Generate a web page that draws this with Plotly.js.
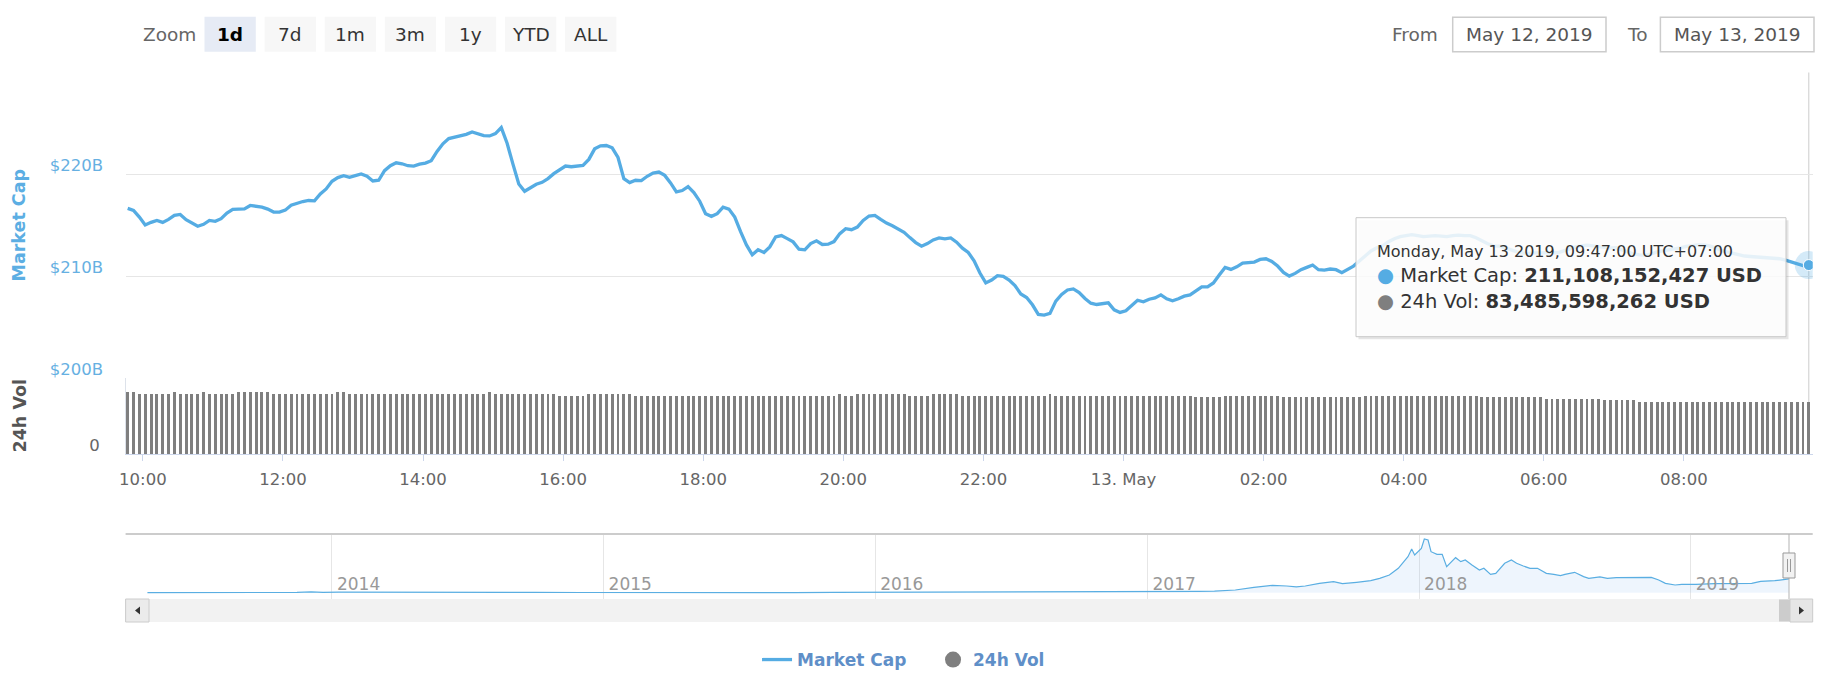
<!DOCTYPE html>
<html>
<head>
<meta charset="utf-8">
<script src="https://cdn.plot.ly/plotly-3.0.1.min.js"></script>
<style>
html,body{margin:0;padding:0;background:#fff;}
#chart{width:1832px;height:679px;}
</style>
</head>
<body>
<div id="chart"></div>
<script>
// ---------------- DATA ----------------
// Total market cap (billions USD), 5-minute points from 2019-05-12 09:47 to 2019-05-13 09:47
const marketCapB = [
  216.68, 216.48, 215.83, 215.05, 215.31, 215.50, 215.31, 215.60, 215.99, 216.09,
  215.57, 215.28, 214.92, 215.11, 215.50, 215.41, 215.67, 216.22, 216.58, 216.61,
  216.64, 216.97, 216.91, 216.81, 216.61, 216.32, 216.32, 216.51, 217.00, 217.20,
  217.36, 217.46, 217.43, 218.11, 218.60, 219.35, 219.71, 219.90, 219.74, 219.90,
  220.07, 219.84, 219.38, 219.45, 220.39, 220.88, 221.17, 221.07, 220.88, 220.85,
  221.04, 221.14, 221.37, 222.28, 223.03, 223.55, 223.68, 223.84, 223.97, 224.20,
  224.01, 223.84, 223.81, 224.04, 224.63, 223.09, 221.04, 219.09, 218.37, 218.70,
  219.06, 219.25, 219.61, 220.10, 220.46, 220.85, 220.78, 220.81, 220.91, 221.50,
  222.54, 222.83, 222.87, 222.64, 221.69, 219.61, 219.22, 219.45, 219.41, 219.84,
  220.16, 220.26, 219.93, 219.19, 218.31, 218.44, 218.83, 218.24, 217.39, 216.16,
  215.90, 216.16, 216.81, 216.61, 215.83, 214.40, 213.09, 212.12, 212.61, 212.35,
  212.90, 213.88, 214.01, 213.71, 213.39, 212.67, 212.61, 213.22, 213.49, 213.13,
  213.16, 213.42, 214.20, 214.69, 214.59, 214.85, 215.50, 215.93, 215.99, 215.60,
  215.24, 214.98, 214.66, 214.33, 213.81, 213.32, 212.96, 213.22, 213.58, 213.78,
  213.68, 213.78, 213.36, 212.77, 212.35, 211.53, 210.33, 209.35, 209.64, 210.07,
  210.00, 209.64, 209.09, 208.27, 207.92, 207.20, 206.25, 206.19, 206.35, 207.56,
  208.21, 208.66, 208.76, 208.40, 207.82, 207.36, 207.23, 207.33, 207.39, 206.71,
  206.45, 206.61, 207.13, 207.65, 207.49, 207.75, 207.88, 208.18, 207.79, 207.59,
  207.79, 208.05, 208.18, 208.60, 208.96, 208.96, 209.35, 210.13, 210.88, 210.68,
  210.94, 211.30, 211.37, 211.40, 211.66, 211.73, 211.47, 211.01, 210.39, 210.03,
  210.29, 210.65, 210.88, 211.11, 210.65, 210.62, 210.72, 210.65, 210.36, 210.68,
  211.01, 211.50, 212.00, 212.50, 212.80, 213.00, 213.40, 213.70, 213.90, 214.00,
  214.10, 214.00, 213.90, 213.95, 214.00, 213.95, 213.90, 214.00, 214.05, 214.00,
  214.00, 213.80, 213.50, 213.20, 213.00, 212.97, 212.80, 212.60, 212.40, 212.30,
  212.25, 212.30, 212.30, 212.35, 212.35, 212.32, 212.50, 212.70, 212.90, 213.00,
  213.07, 213.00, 212.90, 212.85, 212.80, 212.81, 212.60, 212.40, 212.20, 212.10,
  212.06, 212.20, 212.40, 212.50, 212.60, 212.65, 212.80, 212.95, 213.05, 213.10,
  213.10, 213.00, 212.80, 212.55, 212.40, 212.25, 212.10, 212.00, 211.95, 211.92,
  211.90, 211.85, 211.80, 211.73, 211.60, 211.40, 211.20, 211.05, 211.108152427
];

// 24h volume (billions USD), same timestamps
const volumeB = [
  99.5, 99.5, 95.8, 95.8, 95.8, 95.8, 95.8, 95.8, 99.5, 95.8,
  95.8, 95.8, 95.8, 98.5, 95.8, 95.8, 95.8, 95.8, 95.8, 99.5,
  99.5, 99.5, 99.5, 99.5, 99.5, 95.8, 95.8, 95.8, 95.8, 95.8,
  95.8, 95.8, 95.8, 95.8, 95.8, 95.8, 99.5, 99.5, 95.8, 95.8,
  95.8, 95.8, 95.8, 95.8, 95.8, 95.8, 95.8, 95.8, 95.8, 95.8,
  95.8, 95.8, 95.8, 95.8, 95.8, 95.8, 95.8, 95.8, 95.8, 95.8,
  95.8, 95.8, 98.5, 95.8, 95.8, 95.8, 95.8, 95.8, 95.8, 95.8,
  95.8, 95.8, 95.8, 95.8, 93.1, 93.1, 93.1, 93.1, 93.1, 95.8,
  95.8, 95.8, 95.8, 95.8, 95.8, 95.8, 95.8, 93.1, 93.1, 93.1,
  93.1, 93.1, 93.1, 93.1, 93.1, 93.1, 93.1, 93.1, 93.1, 93.1,
  93.1, 93.1, 93.1, 93.1, 93.1, 93.1, 93.1, 93.1, 93.1, 93.1,
  93.1, 93.1, 93.1, 93.1, 93.1, 93.1, 93.1, 93.1, 93.1, 93.1,
  93.1, 93.1, 95.8, 93.1, 93.1, 95.8, 95.8, 95.8, 95.8, 95.8,
  95.8, 95.8, 95.8, 95.8, 93.1, 93.1, 93.1, 93.1, 95.8, 95.8,
  95.8, 95.8, 95.8, 93.1, 93.1, 93.1, 93.1, 93.1, 93.1, 93.1,
  93.1, 93.1, 93.1, 93.1, 93.1, 93.1, 93.1, 93.1, 95.8, 93.1,
  93.1, 93.1, 93.1, 93.1, 93.1, 93.1, 93.1, 93.1, 93.1, 93.1,
  93.1, 93.1, 93.1, 93.1, 93.1, 93.1, 93.1, 93.1, 93.1, 93.1,
  93.1, 93.1, 93.1, 90.5, 90.5, 90.5, 90.5, 90.5, 93.1, 93.1,
  93.1, 93.1, 93.1, 93.1, 93.1, 93.1, 93.1, 93.1, 90.5, 90.5,
  90.5, 90.5, 90.5, 90.5, 90.5, 90.5, 90.5, 90.5, 90.5, 90.5,
  90.5, 90.5, 93.1, 93.1, 93.1, 93.1, 93.1, 93.1, 93.1, 93.1,
  93.1, 93.1, 93.1, 93.1, 93.1, 93.1, 93.1, 93.1, 93.1, 93.1,
  93.1, 93.1, 91.0, 91.0, 91.0, 91.0, 91.0, 91.0, 91.0, 91.0,
  91.0, 91.0, 91.0, 88.3, 88.3, 88.3, 88.3, 88.3, 88.3, 88.3,
  88.3, 88.3, 88.3, 86.2, 86.2, 86.2, 86.2, 86.2, 86.2, 83.49,
  83.49, 83.49, 83.49, 83.49, 83.49, 83.49, 83.49, 83.49, 83.49, 83.49,
  83.49, 83.49, 83.49, 83.49, 83.49, 83.49, 83.49, 83.49, 83.49, 83.49,
  83.49, 83.49, 83.49, 83.49, 83.49, 83.49, 83.49, 83.49, 83.485598262
];

const xTickVals = ['2019-05-12 10:00','2019-05-12 12:00','2019-05-12 14:00','2019-05-12 16:00',
  '2019-05-12 18:00','2019-05-12 20:00','2019-05-12 22:00','2019-05-13 00:00',
  '2019-05-13 02:00','2019-05-13 04:00','2019-05-13 06:00','2019-05-13 08:00'];
const xTickText = ['10:00','12:00','14:00','16:00','18:00','20:00','22:00','13. May',
  '02:00','04:00','06:00','08:00'];
const capTickVals = [200, 210, 220, 230];
const capTickText = ['$200B', '$210B', '$220B', ''];
const volTickVals = [0];
const volTickText = ['0'];

// Navigator: whole-history total market cap (billions USD)
const navDates = [
  '2013-04-28','2013-07-05','2013-10-01','2013-11-15','2013-12-04','2013-12-20','2014-01-10',
  '2014-02-15','2014-04-10','2014-06-01','2014-08-01','2014-10-01','2014-12-01','2015-01-15',
  '2015-03-15','2015-06-15','2015-09-15','2015-11-05','2015-12-15','2016-02-15','2016-04-15',
  '2016-06-17','2016-08-15','2016-10-15','2016-12-20','2017-01-05','2017-02-15','2017-03-10',
  '2017-04-01','2017-04-29','2017-05-24','2017-06-18','2017-07-07','2017-07-20','2017-08-01',
  '2017-08-20','2017-09-08','2017-09-20','2017-10-09','2017-10-28','2017-11-09','2017-11-22',
  '2017-12-04','2017-12-17','2017-12-22','2017-12-26','2018-01-04','2018-01-08','2018-01-13',
  '2018-01-17','2018-01-25','2018-02-01','2018-02-07','2018-02-13','2018-02-19','2018-02-26',
  '2018-03-04','2018-03-13','2018-03-23','2018-03-29','2018-04-07','2018-04-14','2018-04-26',
  '2018-05-05','2018-05-12','2018-05-21','2018-05-30','2018-06-09','2018-06-21','2018-07-01',
  '2018-07-10','2018-07-16','2018-07-29','2018-08-10','2018-08-17','2018-09-01','2018-09-11',
  '2018-09-23','2018-10-12','2018-11-09','2018-11-19','2018-11-28','2018-12-11','2018-12-20',
  '2019-01-08','2019-02-02','2019-03-24','2019-04-05','2019-04-24','2019-05-10','2019-05-13'
];
const navValuesB = [
  1.6, 1.1, 2.0, 6.0, 15.0, 8.0, 11.0,
  9.0, 5.0, 8.5, 7.5, 5.5, 5.0, 3.5,
  4.0, 3.9, 3.6, 6.0, 6.5, 6.5, 8.0,
  12.0, 10.0, 11.0, 16.0, 18.0, 19.0, 23.0,
  25.0, 43.0, 84.0, 114.0, 104.0, 89.0, 104.0,
  144.0, 170.0, 139.0, 160.0, 185.0, 220.0, 271.0,
  373.0, 550.0, 667.0, 575.0, 677.0, 819.0, 804.0,
  626.0, 586.0, 586.0, 398.0, 464.0, 535.0, 474.0,
  499.0, 423.0, 347.0, 373.0, 281.0, 296.0, 449.0,
  499.0, 449.0, 408.0, 373.0, 373.0, 296.0, 281.0,
  261.0, 281.0, 312.0, 246.0, 220.0, 241.0, 220.0,
  230.0, 230.0, 235.0, 195.0, 144.0, 119.0, 129.0,
  129.0, 139.0, 144.0, 175.0, 185.0, 210.0, 211.1
];
const navTickVals = ['2014-01-01','2015-01-01','2016-01-01','2017-01-01','2018-01-01','2019-01-01'];
const navTickText = ['2014','2015','2016','2017','2018','2019'];

const zoomButtons = ['1d','7d','1m','3m','1y','YTD','ALL'];
const selectedButton = '1d';
const fromDateText = 'May 12, 2019';
const toDateText = 'May 13, 2019';
const tooltipHeader = 'Monday, May 13 2019, 09:47:00 UTC+07:00';

// ---------------- BUILD ----------------
const W = 1832, H = 679;
const px = x => x / W;
const py = y => 1 - y / H;
const FONT = '"DejaVu Sans", Verdana, sans-serif';
const BLUE = '#55ace3';
const GRAY_BAR = '#7f7f7f';

const times = marketCapB.map((_, i) =>
  new Date(Date.UTC(2019, 4, 12, 9, 47) + i * 300000).toISOString().slice(0, 19).replace('T', ' '));
const last = marketCapB.length - 1;

const fmtUSD = vB => Math.round(vB * 1e9).toLocaleString('en-US') + ' USD';

const traces = [
  {
    type: 'bar', x: times, y: volumeB, xaxis: 'x', yaxis: 'y2',
    marker: {color: GRAY_BAR, line: {width: 0}}, width: 150000,
    name: '24h Vol', showlegend: false, hoverinfo: 'skip'
  },
  {
    type: 'scatter', mode: 'lines', x: times, y: marketCapB, xaxis: 'x', yaxis: 'y',
    line: {color: BLUE, width: 3.3}, name: 'Market Cap', hoverinfo: 'skip'
  },
  {
    type: 'scatter', mode: 'markers', x: [null], y: [null], xaxis: 'x', yaxis: 'y2',
    marker: {color: GRAY_BAR, size: 17, symbol: 'circle'}, name: '24h Vol', hoverinfo: 'skip'
  },
  {
    type: 'scatter', mode: 'markers', x: [times[last]], y: [marketCapB[last]], xaxis: 'x', yaxis: 'y',
    marker: {color: 'rgba(85,172,227,0.25)', size: 28}, showlegend: false, hoverinfo: 'skip'
  },
  {
    type: 'scatter', mode: 'markers', x: [times[last]], y: [marketCapB[last]], xaxis: 'x', yaxis: 'y',
    marker: {color: BLUE, size: 11, line: {color: '#ffffff', width: 1}}, showlegend: false, hoverinfo: 'skip'
  },
  {
    type: 'scatter', mode: 'lines', x: navDates, y: navValuesB, xaxis: 'x2', yaxis: 'y3',
    line: {color: '#5aaee2', width: 1.2}, fill: 'tozeroy', fillcolor: 'rgba(124,181,236,0.13)',
    showlegend: false, hoverinfo: 'skip'
  }
];

const shapes = [];
const annotations = [];
function rect(x0, y0, x1, y1, fill, lineColor, lw, layer) {
  shapes.push({type: 'rect', xref: 'paper', yref: 'paper', x0: px(x0), x1: px(x1), y0: py(y1), y1: py(y0),
    fillcolor: fill, line: {color: lineColor || 'rgba(0,0,0,0)', width: lineColor ? (lw || 1) : 0},
    layer: layer || 'above'});
}
function hline(x0, x1, y, color, w) {
  shapes.push({type: 'line', xref: 'paper', yref: 'paper', x0: px(x0), x1: px(x1), y0: py(y), y1: py(y),
    line: {color: color, width: w || 1}, layer: 'above'});
}
function vline(x, y0, y1, color, w) {
  shapes.push({type: 'line', xref: 'paper', yref: 'paper', x0: px(x), x1: px(x), y0: py(y0), y1: py(y1),
    line: {color: color, width: w || 1}, layer: 'above'});
}
function tri(points, fill) {
  const d = points.map((p, i) => (i ? 'L' : 'M') + px(p[0]) + ',' + py(p[1])).join(' ') + ' Z';
  shapes.push({type: 'path', xref: 'paper', yref: 'paper', path: d, fillcolor: fill, line: {width: 0}, layer: 'above'});
}
function label(text, x, y, opts) {
  annotations.push(Object.assign({
    text: text, xref: 'paper', yref: 'paper', x: px(x), y: py(y), showarrow: false,
    xanchor: 'center', yanchor: 'middle',
    font: {family: FONT, size: 18.5, color: '#333'}
  }, opts || {}));
}

// Range selector ("Zoom" buttons)
label('Zoom', 169, 34, {font: {family: FONT, size: 18.5, color: '#666'}});
zoomButtons.forEach((b, i) => {
  const x0 = 204.5 + i * 60.1, x1 = x0 + 51.3;
  const sel = b === selectedButton;
  rect(x0, 16.7, x1, 51.7, sel ? '#e6ebf5' : '#f7f7f7');
  label(sel ? '<b>' + b + '</b>' : b, (x0 + x1) / 2, 34.5,
    {font: {family: FONT, size: 18.5, color: sel ? '#000' : '#333'}});
});

// From / To inputs
label('From', 1440, 34, {xanchor: 'right', font: {family: FONT, size: 18.5, color: '#666'}});
rect(1452.7, 17.3, 1606, 51.7, '#ffffff', '#cccccc', 1.5);
label(fromDateText, 1529.3, 34.5, {font: {family: FONT, size: 18.5, color: '#555'}});
label('To', 1636.5, 34, {font: {family: FONT, size: 18.5, color: '#666'}});
rect(1660.4, 17.3, 1814, 51.7, '#ffffff', '#cccccc', 1.5);
label(toDateText, 1737.2, 34.5, {font: {family: FONT, size: 18.5, color: '#555'}});

// Axis titles
label('<b>Market Cap</b>', 19, 225.5, {textangle: -90, font: {family: FONT, size: 17.5, color: '#5caee3'}});
label('<b>24h Vol</b>', 19, 415.5, {textangle: -90, font: {family: FONT, size: 17.5, color: '#555'}});

// Crosshair at hovered point
shapes.push({type: 'line', xref: 'x', yref: 'paper', x0: times[last], x1: times[last], y0: py(454), y1: py(72.5),
  line: {color: '#cccccc', width: 1}, layer: 'below'});

// Navigator frame, handle and scrollbar
hline(125.6, 1812.7, 534, '#cccccc', 2);
vline(1789, 534, 599, '#b3b3b3', 1);
rect(125.6, 599, 1812.7, 622, '#f2f2f2');
rect(125.6, 599, 149, 622, '#ebebeb', '#cccccc', 1);
tri([[140, 606.5], [140, 614.5], [135, 610.5]], '#333');
rect(1779, 599.5, 1790, 621.5, '#cccccc');
rect(1790, 599, 1812.7, 622, '#e6e6e6', '#cccccc', 1);
tri([[1799, 606.5], [1799, 614.5], [1804, 610.5]], '#333');
rect(1783, 553, 1795, 578, '#f2f2f2', '#999999', 1);
vline(1787.5, 559, 572, '#999999', 1);
vline(1790.5, 559, 572, '#999999', 1);

// Tooltip
rect(1358.5, 220.2, 1788.5, 339.2, 'rgba(0,0,0,0.10)');
rect(1356, 217.7, 1786, 336.7, 'rgba(255,255,255,0.86)', '#c8c8c8', 1);
annotations.push({
  xref: 'paper', yref: 'paper', x: px(1375), y: py(277), xanchor: 'left', yanchor: 'middle',
  align: 'left', showarrow: false,
  font: {family: FONT, size: 19.5, color: '#333'},
  text: '<span style="font-size:16px">' + tooltipHeader + '</span><br>' +
        '<span style="color:' + BLUE + '">●</span> Market Cap: <b>' + fmtUSD(marketCapB[last]) + '</b><br>' +
        '<span style="color:' + GRAY_BAR + '">●</span> 24h Vol: <b>' + fmtUSD(volumeB[last]) + '</b>'
});

const layout = {
  width: W, height: H,
  margin: {l: 0, r: 0, t: 0, b: 0, pad: 0},
  paper_bgcolor: '#ffffff', plot_bgcolor: 'rgba(0,0,0,0)',
  font: {family: FONT, color: '#666'},
  showlegend: true,
  bargap: 0,
  xaxis: {
    type: 'date', domain: [px(126), px(1812.7)], anchor: 'y2',
    range: ['2019-05-12 09:45:33', '2019-05-13 09:50:20'],
    tickmode: 'array', tickvals: xTickVals, ticktext: xTickText,
    ticks: 'outside', ticklen: 6, tickcolor: '#ccd6eb', tickwidth: 1,
    showline: true, linecolor: '#ccd6eb', linewidth: 1,
    showgrid: false, zeroline: false,
    tickfont: {family: FONT, size: 16.5, color: '#666'},
    ticklabelstandoff: 4, fixedrange: true
  },
  yaxis: {
    domain: [py(378), py(73)], anchor: 'x', range: [200, 230],
    tickmode: 'array', tickvals: capTickVals, ticktext: capTickText,
    showgrid: true, gridcolor: '#e6e6e6', gridwidth: 1, zeroline: false, showline: false,
    ticks: '', tickfont: {family: FONT, size: 16.5, color: '#66b0e2'},
    ticklabelshift: -9, ticklabelstandoff: 22, fixedrange: true
  },
  yaxis2: {
    domain: [py(454), py(378)], anchor: 'x', range: [0, 121.3],
    tickmode: 'array', tickvals: volTickVals, ticktext: volTickText,
    showgrid: false, zeroline: false, showline: true, linecolor: '#dde2ea', linewidth: 1,
    ticks: '', tickfont: {family: FONT, size: 16.5, color: '#666'},
    ticklabelshift: -9, ticklabelstandoff: 22, fixedrange: true
  },
  xaxis2: {
    type: 'date', domain: [px(125.6), px(1812.7)], anchor: 'y3',
    range: ['2013-03-29 16:00', '2019-06-13 22:00'],
    tickmode: 'array', tickvals: navTickVals, ticktext: navTickText,
    ticks: '', ticklabelposition: 'inside right', ticklabelshift: 5,
    showgrid: true, gridcolor: '#e6e6e6', gridwidth: 1, zeroline: false, showline: false,
    tickfont: {family: FONT, size: 17, color: '#999'}, fixedrange: true
  },
  yaxis3: {
    domain: [py(599), py(534)], anchor: 'x2', range: [-94, 895],
    showticklabels: false, showgrid: false, zeroline: false, showline: false, ticks: '', fixedrange: true
  },
  legend: {
    orientation: 'h', x: 0.5093, xanchor: 'center', y: py(660), yanchor: 'middle',
    entrywidth: 131, entrywidthmode: 'pixels',
    font: {family: FONT, size: 17, color: '#5f8fc8', weight: 'bold'},
    bgcolor: 'rgba(0,0,0,0)', itemclick: false, itemdoubleclick: false
  },
  shapes: shapes,
  annotations: annotations
};

Plotly.newPlot('chart', traces, layout, {displayModeBar: false, staticPlot: true});
</script>
</body>
</html>
